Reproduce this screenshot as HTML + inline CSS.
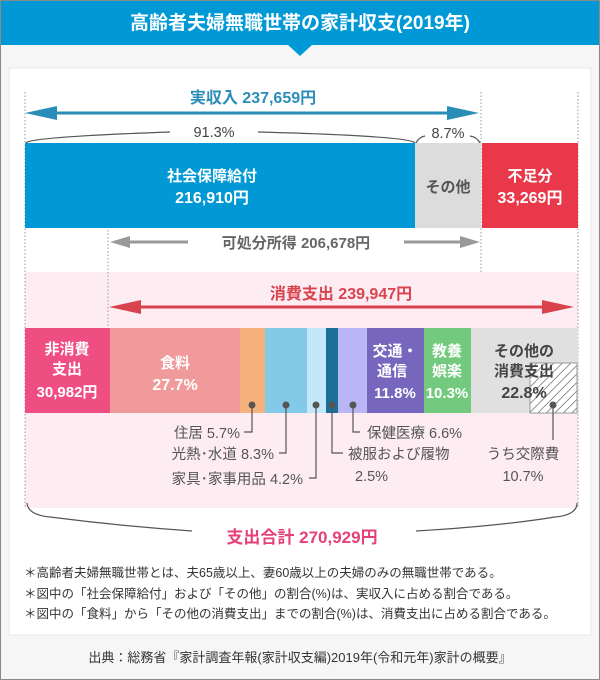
<!DOCTYPE html>
<html><head><meta charset="utf-8"><style>
html,body{margin:0;padding:0;background:#f6f6f6}
svg{display:block}
text{font-family:"Liberation Sans","Noto Sans CJK JP",sans-serif}
</style></head><body>
<svg width="600" height="680" viewBox="0 0 600 680" xmlns="http://www.w3.org/2000/svg">
<defs>
<pattern id="h" width="6" height="6" patternUnits="userSpaceOnUse" patternTransform="rotate(45)">
<rect width="6" height="6" fill="#fff"/><line x1="0" y1="0" x2="0" y2="6" stroke="#444" stroke-width="1.2"/>
</pattern>
</defs>
<rect x="0.5" y="0.5" width="599" height="679" fill="#f6f6f6" stroke="#8a8a8a"/>
<rect x="1" y="1" width="598" height="44" fill="#0099d5"/>
<polygon points="288,45 312,45 300,56" fill="#0099d5"/>
<text x="300" y="29" font-size="19" fill="#fff" text-anchor="middle" font-weight="bold">高齢者夫婦無職世帯の家計収支(2019年)</text>
<rect x="9" y="68" width="582" height="567" fill="#fff" stroke="#e8e8e8"/>
<rect x="25" y="272" width="553" height="236" fill="#fdedf2"/>
<g stroke="#999" stroke-dasharray="1.5,2" stroke-width="1">
<line x1="25" y1="92" x2="25" y2="508"/>
<line x1="108" y1="230" x2="108" y2="330"/>
<line x1="481" y1="92" x2="481" y2="272"/>
<line x1="578" y1="92" x2="578" y2="508"/>
</g>
<text x="253" y="103" font-size="16" font-weight="bold" fill="#2a8db8" text-anchor="middle">実収入 237,659円</text>
<line x1="40" y1="113" x2="465" y2="113" stroke="#2a8db8" stroke-width="3"/>
<polygon points="25,113 57,106 57,120" fill="#2a8db8"/>
<polygon points="479,113 447,106 447,120" fill="#2a8db8"/>
<path d="M26,143 Q30,137 170,132 M258,132 Q410,136 415,143" stroke="#555" fill="none" stroke-width="1.2"/>
<text x="214" y="137" font-size="14.5" fill="#444" text-anchor="middle">91.3%</text>
<path d="M416,143 Q419,137 425,136 M470,136 Q477,137 480,143" stroke="#555" fill="none" stroke-width="1.2"/>
<text x="448" y="138" font-size="14.5" fill="#444" text-anchor="middle">8.7%</text>
<rect x="25" y="143" width="390" height="85" fill="#0099d5"/>
<rect x="415" y="143" width="66" height="85" fill="#dcdcdc"/>
<rect x="482" y="143" width="96" height="85" fill="#e8384a"/>
<text x="212" y="181" font-size="15" font-weight="bold" fill="#fff" text-anchor="middle">社会保障給付</text>
<text x="212" y="203" font-size="16" font-weight="bold" fill="#fff" text-anchor="middle">216,910円</text>
<text x="448" y="192" font-size="15" font-weight="bold" fill="#555" text-anchor="middle">その他</text>
<text x="530" y="181" font-size="15" font-weight="bold" fill="#fff" text-anchor="middle">不足分</text>
<text x="530" y="203" font-size="16" font-weight="bold" fill="#fff" text-anchor="middle">33,269円</text>
<line x1="122" y1="242" x2="188" y2="242" stroke="#999" stroke-width="3"/>
<polygon points="110,242 130,236 130,248" fill="#999"/>
<line x1="404" y1="242" x2="466" y2="242" stroke="#999" stroke-width="3"/>
<polygon points="480,242 460,236 460,248" fill="#999"/>
<text x="296" y="248" font-size="15" font-weight="bold" fill="#666" text-anchor="middle">可処分所得 206,678円</text>
<text x="341" y="299" font-size="16" font-weight="bold" fill="#d9434e" text-anchor="middle">消費支出 239,947円</text>
<line x1="122" y1="307" x2="560" y2="307" stroke="#d9434e" stroke-width="3"/>
<polygon points="109,307 141,300 141,314" fill="#d9434e"/>
<polygon points="574,307 542,300 542,314" fill="#d9434e"/>
<rect x="25" y="328" width="85" height="85" fill="#ef4e83"/>
<rect x="110" y="328" width="130" height="85" fill="#f19a9b"/>
<rect x="240" y="328" width="25" height="85" fill="#f5b27d"/>
<rect x="265" y="328" width="42" height="85" fill="#83c9e8"/>
<rect x="307" y="328" width="19" height="85" fill="#c2e8fa"/>
<rect x="326" y="328" width="12" height="85" fill="#1b6e97"/>
<rect x="338" y="328" width="29" height="85" fill="#bab6f5"/>
<rect x="367" y="328" width="57" height="85" fill="#7666be"/>
<rect x="424" y="328" width="47" height="85" fill="#73ca7f"/>
<rect x="471" y="328" width="107" height="85" fill="#e0e0e0"/>
<rect x="530" y="363" width="47" height="50" fill="url(#h)" stroke="#999"/>
<g font-weight="bold" fill="#fff" text-anchor="middle">
<text x="67" y="354" font-size="15">非消費</text>
<text x="67" y="374" font-size="15">支出</text>
<text x="67" y="397" font-size="15">30,982円</text>
<text x="175" y="368" font-size="15">食料</text>
<text x="175" y="390" font-size="16">27.7%</text>
<text x="395" y="356" font-size="15">交通・</text>
<text x="392" y="376" font-size="15">通信</text>
<text x="395" y="398" font-size="15">11.8%</text>
<text x="447" y="356" font-size="15">教養</text>
<text x="447" y="376" font-size="15">娯楽</text>
<text x="447" y="398" font-size="15">10.3%</text>
</g>
<g font-weight="bold" fill="#444" text-anchor="middle">
<text x="524" y="356" font-size="15">その他の</text>
<text x="524" y="376" font-size="15">消費支出</text>
<text x="524" y="398" font-size="16">22.8%</text>
</g>
<g stroke="#555" stroke-width="1.2" fill="none">
<path d="M252,405 V432 H244"/>
<path d="M286,405 V453 H279"/>
<path d="M316,405 V478 H309"/>
<path d="M332,405 V453 H343"/>
<path d="M353,405 V432 H360"/>
<path d="M553,405 V440"/>
</g>
<g fill="#555">
<circle cx="252" cy="405" r="3.5"/><circle cx="286" cy="405" r="3.5"/><circle cx="316" cy="405" r="3.5"/>
<circle cx="332" cy="405" r="3.5"/><circle cx="353" cy="405" r="3.5"/><circle cx="553" cy="405" r="3.5"/>
</g>
<g font-size="14.5" fill="#555">
<text x="240" y="438" text-anchor="end">住居 5.7%</text>
<text x="274" y="459" text-anchor="end">光熱･水道 8.3%</text>
<text x="303" y="484" text-anchor="end">家具･家事用品 4.2%</text>
<text x="348" y="459">被服および履物</text>
<text x="355" y="481">2.5%</text>
<text x="367" y="438">保健医療 6.6%</text>
<text x="523" y="459" text-anchor="middle">うち交際費</text>
<text x="523" y="481" text-anchor="middle">10.7%</text>
</g>
<path d="M27,503 Q28,515 50,517 Q120,526 192,531 M416,531 Q500,526 555,517 Q577,515 577,503" stroke="#555" fill="none" stroke-width="1.2"/>
<text x="302" y="543" font-size="17" font-weight="bold" fill="#e6407a" text-anchor="middle">支出合計 270,929円</text>
<g font-size="12.5" fill="#333">
<text x="24" y="577">＊高齢者夫婦無職世帯とは、夫65歳以上、妻60歳以上の夫婦のみの無職世帯である。</text>
<text x="24" y="598">＊図中の「社会保障給付」および「その他」の割合(%)は、実収入に占める割合である。</text>
<text x="24" y="618">＊図中の「食料」から「その他の消費支出」までの割合(%)は、消費支出に占める割合である。</text>
</g>
<text x="300" y="662" font-size="13" fill="#333" text-anchor="middle">出典：総務省『家計調査年報(家計収支編)2019年(令和元年)家計の概要』</text>
</svg>
</body></html>
